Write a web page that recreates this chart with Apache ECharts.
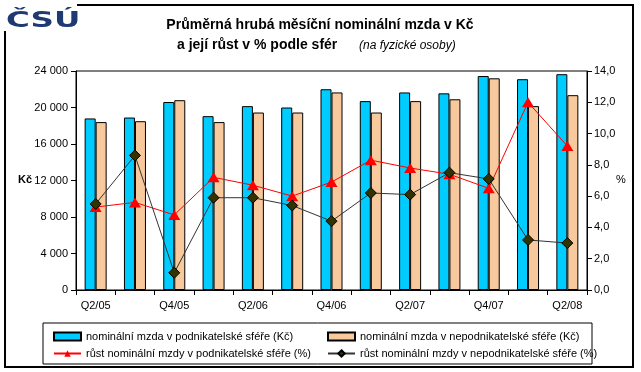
<!DOCTYPE html>
<html>
<head>
<meta charset="utf-8">
<script src="https://cdn.jsdelivr.net/npm/echarts@6/dist/echarts.min.js"></script>
<style>html,body{margin:0;padding:0;background:#fff;}#c{width:641px;height:372px;}</style>
</head>
<body>
<div id="c"></div>
<script>
const categories = ['Q2/05','Q3/05','Q4/05','Q1/06','Q2/06','Q3/06','Q4/06','Q1/07','Q2/07','Q3/07','Q4/07','Q1/08','Q2/08'];
const wageBusiness = [18800,18900,20600,19050,20150,20000,22000,20700,21650,21550,23450,23100,23650];
const wageNonBusiness = [18400,18500,20800,18400,19450,19450,21650,19450,20700,20900,23200,20150,21350];
const growthBusiness = [5.3,5.6,4.8,7.2,6.7,6.0,6.9,8.3,7.8,7.4,6.5,12.0,9.2];
const growthNonBusiness = [5.5,8.6,1.1,5.9,5.9,5.4,4.4,6.2,6.1,7.5,7.1,3.2,3.0];
const seriesNames = [
  'nominální mzda v podnikatelské sféře (Kč)',
  'nominální mzda v nepodnikatelské sféře (Kč)',
  'růst nominální mzdy v podnikatelské sféře (%)',
  'růst nominální mzdy v nepodnikatelské sféře (%)'
];
const F = 'Liberation Sans, Arial, sans-serif';
const chart = echarts.init(document.getElementById('c'), null, {renderer: 'canvas'});
const legendCommon = {orient: 'vertical', top: 326, itemWidth: 27, itemHeight: 8, itemGap: 6,
  textStyle: {fontFamily: F, fontSize: 11, color: '#000'}};
chart.setOption({
  animation: false,
  backgroundColor: '#fff',
  textStyle: {fontFamily: F},
  grid: {left: 76, right: 54, top: 71, bottom: 82, show: true, borderColor: '#000', borderWidth: 1, backgroundColor: '#fff'},
  legend: [
    Object.assign({left: 48, data: [{name: seriesNames[0], icon: 'rect'}, seriesNames[2]]}, legendCommon),
    Object.assign({left: 322, data: [{name: seriesNames[1], icon: 'rect'}, seriesNames[3]]}, legendCommon)
  ],
  xAxis: {
    type: 'category', data: categories,
    axisLine: {lineStyle: {color: '#000', width: 1}},
    axisTick: {show: true, interval: 0, length: 5, lineStyle: {color: '#000'}},
    axisLabel: {interval: 1, color: '#000', fontSize: 11, fontFamily: F, margin: 10}
  },
  yAxis: [
    {type: 'value', min: 0, max: 24000, interval: 4000,
     axisLine: {show: true, lineStyle: {color: '#000'}},
     axisTick: {show: true, length: 5, lineStyle: {color: '#000'}},
     splitLine: {show: false},
     axisLabel: {color: '#000', fontSize: 11, fontFamily: F, margin: 8,
       formatter: v => v === 0 ? '0' : (v / 1000) + ' 000'}},
    {type: 'value', min: 0, max: 14, interval: 2, position: 'right',
     axisLine: {show: true, lineStyle: {color: '#000'}},
     axisTick: {show: true, length: 5, lineStyle: {color: '#000'}},
     splitLine: {show: false},
     axisLabel: {color: '#000', fontSize: 11, fontFamily: F, margin: 7,
       formatter: v => v.toFixed(1).replace('.', ',')}}
  ],
  series: [
    {name: seriesNames[0], type: 'bar', data: wageBusiness, barWidth: 11, barGap: '0%',
     itemStyle: {color: '#00CCFF', borderColor: '#000', borderWidth: 1}},
    {name: seriesNames[1], type: 'bar', data: wageNonBusiness, barWidth: 11, barGap: '0%',
     itemStyle: {color: '#F8C99C', borderColor: '#000', borderWidth: 1}},
    {name: seriesNames[2], type: 'line', yAxisIndex: 1, data: growthBusiness,
     symbol: 'triangle', symbolSize: [12, 10],
     lineStyle: {color: '#FF0000', width: 1}, itemStyle: {color: '#FF0000'}},
    {name: seriesNames[3], type: 'line', yAxisIndex: 1, data: growthNonBusiness,
     symbol: 'diamond', symbolSize: 11,
     lineStyle: {color: '#333333', width: 1}, itemStyle: {color: '#333300', borderColor: '#000', borderWidth: 1}}
  ],
  graphic: [
    {type: 'rect', z: -1, shape: {x: 5, y: 5, width: 628, height: 362}, style: {fill: 'none', stroke: '#000', lineWidth: 2}},
    {type: 'rect', z: 1, shape: {x: 43, y: 323, width: 549, height: 41}, style: {fill: 'none', stroke: '#000', lineWidth: 1}},
    {type: 'rect', z: 2, shape: {x: 0, y: 0, width: 77, height: 31}, style: {fill: '#fff'}},
    {type: 'text', z: 3, x: 6, y: 32, scaleX: 1.55, style: {text: 'ČSÚ', fill: '#1F3A73', font: 'bold 21px "DejaVu Sans"', verticalAlign: 'bottom'}},
    {type: 'text', z: 3, x: 320, y: 25, style: {text: 'Průměrná hrubá měsíční nominální mzda v Kč', fill: '#000', font: 'bold 14px "Liberation Sans"', align: 'center', verticalAlign: 'middle'}},
    {type: 'text', z: 3, x: 177, y: 45, style: {text: 'a její růst v % podle sfér', fill: '#000', font: 'bold 14px "Liberation Sans"', verticalAlign: 'middle'}},
    {type: 'text', z: 3, x: 359, y: 46, style: {text: '(na fyzické osoby)', fill: '#000', font: 'italic 12px "Liberation Sans"', verticalAlign: 'middle'}},
    {type: 'text', z: 3, x: 18, y: 180, style: {text: 'Kč', fill: '#000', font: 'bold 11px "Liberation Sans"', verticalAlign: 'middle'}},
    {type: 'text', z: 3, x: 616, y: 180, style: {text: '%', fill: '#000', font: '11px "Liberation Sans"', verticalAlign: 'middle'}}
  ]
});
</script>
</body>
</html>
